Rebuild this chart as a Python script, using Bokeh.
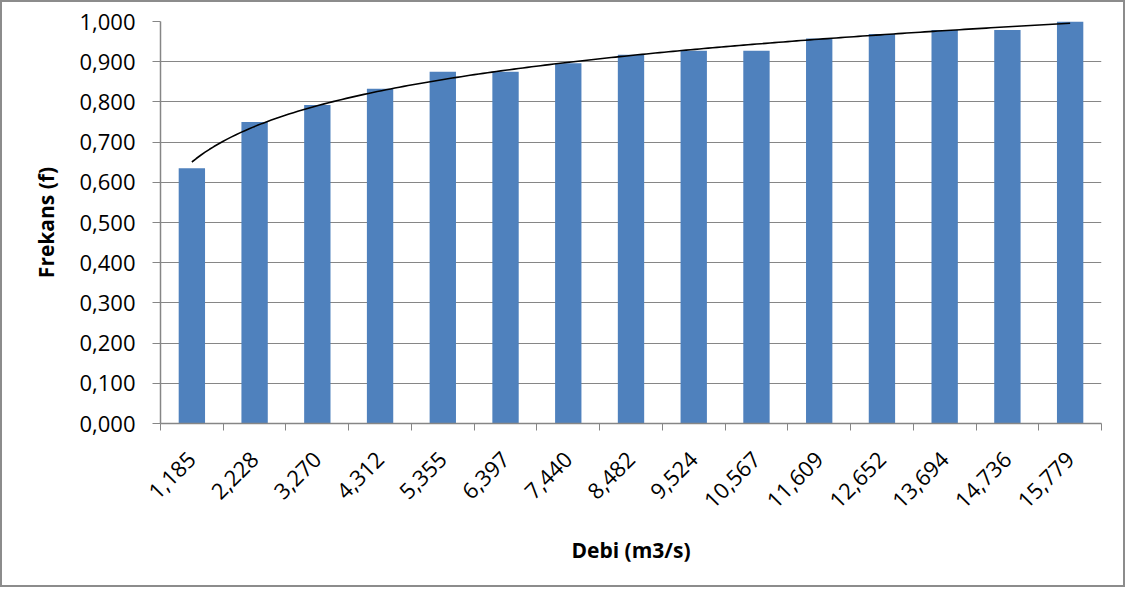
import numpy as np
from bokeh.plotting import figure
from bokeh.models import ColumnDataSource, FixedTicker, CustomJSTickFormatter, Range1d
from bokeh.embed import file_html
from bokeh.resources import INLINE
from math import pi

# Data
categories = ["1,185", "2,228", "3,270", "4,312", "5,355", "6,397", "7,440", "8,482",
              "9,524", "10,567", "11,609", "12,652", "13,694", "14,736", "15,779"]
frekans = [0.635, 0.750, 0.792, 0.833, 0.875, 0.875, 0.896, 0.917,
           0.927, 0.927, 0.958, 0.969, 0.979, 0.979, 1.000]
y_ticks = [0.0, 0.1, 0.2, 0.3, 0.4, 0.5, 0.6, 0.7, 0.8, 0.9, 1.0]

idx = list(range(1, len(categories) + 1))
src = ColumnDataSource(dict(x=idx, y=frekans, cat=categories))

# Logarithmic trend line fitted to the bars (like Excel's log trendline)
a, b = np.polyfit(np.log(idx), frekans, 1)
tx = np.linspace(1, len(categories), 200)
ty = a * np.log(tx) + b

FONT = "Open Sans"
GRID = "#868686"

p = figure(width=1125, height=587, output_backend="svg", toolbar_location=None,
           x_range=Range1d(0.5, len(categories) + 0.5), y_range=Range1d(0, 1.0),
           min_border_left=158, min_border_right=26, min_border_top=19, min_border_bottom=166)
p.styles = {"border": "2px solid #8c8c8c"}
p.outline_line_color = None
p.background_fill_color = "white"
p.border_fill_color = "white"

p.vbar(x="x", top="y", width=0.42, bottom=0, source=src,
       fill_color="#4F81BD", line_color=None)
p.line(tx, ty, line_color="black", line_width=1.6)

# X axis
p.xaxis.ticker = FixedTicker(ticks=idx, minor_ticks=[i + 0.5 for i in range(0, len(categories) + 1)])
p.xaxis.major_label_overrides = {i: c for i, c in zip(idx, categories)}
p.xaxis.major_label_orientation = pi / 4
p.xaxis.major_tick_line_color = None
p.xaxis.major_tick_out = 0
p.xaxis.major_tick_in = 0
p.xaxis.minor_tick_line_color = GRID
p.xaxis.minor_tick_out = 7
p.xaxis.minor_tick_in = 0
p.xaxis.minor_tick_line_width = 1
p.xaxis.major_label_standoff = 25
p.xaxis.axis_label = "Debi (m3/s)"
p.xaxis.axis_label_standoff = 18

# Y axis
p.yaxis.ticker = FixedTicker(ticks=y_ticks)
p.yaxis.formatter = CustomJSTickFormatter(code="return tick.toFixed(3).replace('.', ',');")
p.yaxis.major_tick_out = 8
p.yaxis.major_tick_in = 0
p.yaxis.major_tick_line_color = GRID
p.yaxis.minor_tick_line_color = None
p.yaxis.major_label_standoff = 17
p.yaxis.axis_label = "Frekans (f)"
p.yaxis.axis_label_standoff = 16

for ax in (p.xaxis[0], p.yaxis[0]):
    ax.axis_line_color = GRID
    ax.axis_line_width = 1.5
    ax.major_label_text_font = FONT
    ax.major_label_text_font_size = "22px"
    ax.major_label_text_color = "black"
    ax.axis_label_text_font = FONT
    ax.axis_label_text_font_size = "21px"
    ax.axis_label_text_font_style = "bold"
    ax.axis_label_text_color = "black"

p.xgrid.grid_line_color = None
p.ygrid.grid_line_color = GRID
p.ygrid.grid_line_width = 1.2

open("out.html", "w").write(file_html(p, INLINE))
